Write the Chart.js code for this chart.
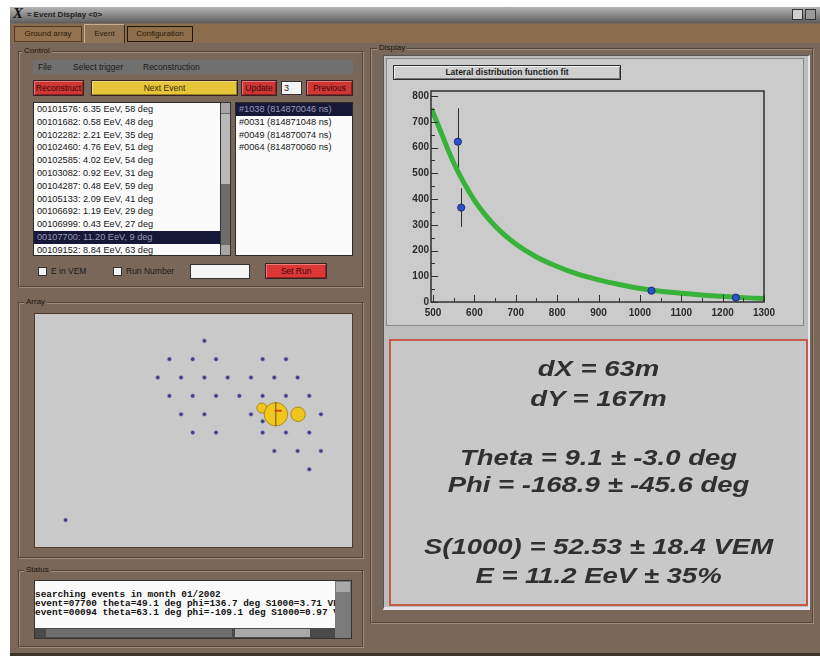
<!DOCTYPE html>
<html>
<head>
<meta charset="utf-8">
<title>Event Display</title>
<script src="https://cdn.jsdelivr.net/npm/chart.js@4.4.1/dist/chart.umd.min.js"></script>
<style>
  html, body { margin: 0; padding: 0; background: #ffffff; }
  body { width: 820px; height: 658px; position: relative; overflow: hidden;
         font-family: "Liberation Sans", Arial, sans-serif; color: #1a1a1a; }
  .a { position: absolute; box-sizing: border-box; }
  .grp { border: 1px solid #54453a; box-shadow: inset 1px 1px 0 #a08c74, 1px 1px 0 #a08c74; }
  .glbl { font-size: 8px; color: #1c140c; background: #79685a; padding: 0 2px; line-height: 10px; }
  .btn { font-size: 8.5px; line-height: 14px; text-align: center; border: 1px solid #3a2020;
         box-shadow: inset 1px 1px 0 rgba(255,255,255,0.35), inset -1px -1px 0 rgba(0,0,0,0.35); }
  .red { background: #cf3636; color: #3a0606; }
  .list { background: #fbfbfb; border: 1px solid #2a2a2a; overflow: hidden; }
  .item { height: 12.8px; line-height: 12.8px; font-size: 9.2px; padding-left: 3px; white-space: nowrap; color: #161616; }
  .item.sel { background: #17173a; color: #9a9ab4; }
  .info { left: 389px; width: 419px; text-align: center; font-style: italic; font-weight: bold;
          font-size: 22px; line-height: 22px; color: #303030; transform: scaleX(1.25); transform-origin: 50% 50%; white-space: nowrap; }
</style>
</head>
<body>

<!-- window frame -->
<div class="a" style="left:10px;top:7px;width:810px;height:16px;background:linear-gradient(#b4b4b4,#868686 55%,#5c5c5c);"></div>
<div class="a" style="left:13px;top:5px;font:italic bold 15px 'Liberation Serif',serif;color:#111;">X</div>
<div class="a" style="left:27px;top:10px;font-size:8px;font-weight:bold;color:#222;">≈ Event Display &lt;0&gt;</div>
<div class="a" style="left:792px;top:9px;width:11px;height:11px;background:#cfcfcf;border:1px solid #333;"></div>
<div class="a" style="left:805px;top:9px;width:11px;height:11px;background:#9a9a9a;border:1px solid #333;"></div>

<div class="a" style="left:10px;top:23px;width:810px;height:633px;background:#79685a;border-bottom:3px solid #3b322a;"></div>

<!-- tab strip -->
<div class="a" style="left:12px;top:24px;width:808px;height:19px;background:#8b6c4c;"></div>
<div class="a" style="left:14px;top:26px;width:68px;height:16px;background:#94724f;border:1px solid #4a3828;font-size:8px;line-height:14px;text-align:center;color:#2a1a0a;">Ground array</div>
<div class="a" style="left:84px;top:24px;width:41px;height:19px;background:#8f7458;border-top:1px solid #c8b090;border-left:1px solid #c8b090;border-right:1px solid #3a2a1a;font-size:8px;line-height:17px;text-align:center;color:#2a1a0a;">Event</div>
<div class="a" style="left:127px;top:26px;width:66px;height:16px;background:#8e6d4b;border:1px solid #20160c;font-size:8px;line-height:14px;text-align:center;color:#2a1a0a;">Configuration</div>

<!-- Control group -->
<div class="a grp" style="left:18px;top:51px;width:345px;height:236px;"></div>
<div class="a glbl" style="left:22px;top:46px;">Control</div>
<div class="a" style="left:33px;top:60px;width:320px;height:14px;background:#707070;font-size:8.5px;line-height:14px;color:#1a1a1a;">
  <span class="a" style="left:5px;">File</span>
  <span class="a" style="left:40px;">Select trigger</span>
  <span class="a" style="left:110px;">Reconstruction</span>
</div>
<div class="a btn red" style="left:33px;top:80px;width:51px;height:16px;">Reconstruct</div>
<div class="a btn" style="left:91px;top:80px;width:147px;height:16px;background:#e5c63a;color:#3a2a06;">Next Event</div>
<div class="a btn red" style="left:241px;top:80px;width:36px;height:16px;">Update</div>
<div class="a" style="left:281px;top:81px;width:21px;height:14px;background:#f4f4f4;border:1px solid #333;font-size:9px;line-height:12px;padding-left:2px;">3</div>
<div class="a btn red" style="left:306px;top:80px;width:47px;height:16px;">Previous</div>

<div class="a list" id="evList" style="left:33px;top:102px;width:188px;height:154px;"></div>
<div class="a" style="left:220px;top:102px;width:11px;height:154px;background:#6c6c6c;border:1px solid #333;"></div>
<div class="a" style="left:221px;top:103px;width:9px;height:10px;background:#a6a6a6;"></div>
<div class="a" style="left:221px;top:114px;width:9px;height:70px;background:#b8b8b8;"></div>
<div class="a" style="left:221px;top:245px;width:9px;height:10px;background:#a6a6a6;"></div>

<div class="a list" id="stList" style="left:235px;top:102px;width:118px;height:154px;"></div>

<div class="a" style="left:38px;top:267px;width:9px;height:9px;background:#f2f2f2;border:1px solid #333;"></div>
<div class="a" style="left:51px;top:266px;font-size:8.5px;color:#1a1a1a;">E in VEM</div>
<div class="a" style="left:113px;top:267px;width:9px;height:9px;background:#f2f2f2;border:1px solid #333;"></div>
<div class="a" style="left:126px;top:266px;font-size:8.5px;color:#1a1a1a;">Run Number</div>
<div class="a" style="left:190px;top:264px;width:60px;height:15px;background:#f6f6f6;border:1px solid #333;"></div>
<div class="a btn" style="left:265px;top:263px;width:62px;height:16px;background:#dc3838;color:#3a0606;">Set Run</div>

<!-- Array group -->
<div class="a grp" style="left:18px;top:302px;width:345px;height:256px;"></div>
<div class="a glbl" style="left:24px;top:297px;">Array</div>
<div class="a" style="left:34px;top:313px;width:319px;height:235px;border:1px solid #4a3b2e;background:#c9c9c9;">
  <canvas id="arrayChart" width="317" height="233" style="display:block;"></canvas>
</div>

<!-- Status group -->
<div class="a grp" style="left:18px;top:570px;width:345px;height:77px;"></div>
<div class="a glbl" style="left:24px;top:565px;">Status</div>
<div class="a" style="left:34px;top:580px;width:318px;height:59px;background:#333;"></div>
<div class="a" id="statusBox" style="left:35px;top:581px;width:300px;height:47px;background:#fafafa;overflow:hidden;font:bold 9.4px 'Liberation Mono','DejaVu Sans Mono',monospace;line-height:9.2px;color:#111;padding-top:9px;white-space:pre;"></div>
<div class="a" style="left:335px;top:581px;width:16px;height:57px;background:#7a7a7a;"></div>
<div class="a" style="left:336px;top:582px;width:14px;height:10px;background:#a8a8a8;"></div>
<div class="a" style="left:35px;top:628px;width:300px;height:10px;background:#4a4a4a;"></div>
<div class="a" style="left:46px;top:629px;width:186px;height:8px;background:#6e6e6e;"></div>
<div class="a" style="left:235px;top:629px;width:75px;height:8px;background:#a9a9a9;"></div>

<!-- Display group -->
<div class="a grp" style="left:370px;top:48px;width:443px;height:575px;"></div>
<div class="a glbl" style="left:377px;top:43px;">Display</div>
<div class="a" style="left:383px;top:55px;width:427px;height:555px;background:#bdbdbd;border-top:1px solid #555;border-left:1px solid #555;border-right:2px solid #e4e4f0;border-bottom:3px solid #e4e4f0;"></div>

<div class="a" style="left:386px;top:58px;width:418px;height:268px;background:#cbcbcb;border:1px solid #8a8a8a;">
  <canvas id="ldfChart" width="416" height="266" style="display:block;"></canvas>
</div>
<div class="a" style="left:393px;top:65px;width:228px;height:15px;background:#d0d0d0;border:1px solid #2e2e2e;box-shadow:inset 1px 1px 0 #f0f0f0, inset -1px -1px 0 #777;font-size:8.5px;font-weight:bold;line-height:13px;text-align:center;color:#1e1e1e;">Lateral distribution function fit</div>

<div class="a" style="left:389px;top:339px;width:419px;height:267px;background:#c8c8c8;border:2px solid #c55a48;"></div>
<div class="a info" style="top:358px;">dX = 63m</div>
<div class="a info" style="top:388px;">dY = 167m</div>
<div class="a info" style="top:447px;">Theta = 9.1 ± -3.0 deg</div>
<div class="a info" style="top:474px;">Phi = -168.9 ± -45.6 deg</div>
<div class="a info" style="top:536px;">S(1000) = 52.53 ± 18.4 VEM</div>
<div class="a info" style="top:565px;">E = 11.2 EeV ± 35%</div>

<script>
// ---- Lateral distribution: station signals (VEM) against core distance (m) ----
const stationDist   = [560, 568, 1028, 1232];
const stationSignal = [623, 367, 44, 17];
const stationErr    = [130, 75, 8, 5];

// fitted lateral distribution function, sampled along the core distance
const fitDist   = [495, 500, 550, 600, 650, 700, 750, 800, 850, 900, 950, 1000, 1050, 1100, 1150, 1200, 1250, 1300];
const fitSignal = [752, 735, 540, 395, 295, 225, 175, 138, 108, 86, 68, 52.53, 42, 34, 27, 22, 17, 14];

const distTicks   = [500, 600, 700, 800, 900, 1000, 1100, 1200, 1300];
const signalTicks = [0, 100, 200, 300, 400, 500, 600, 700, 800];

// ---- Surface array layout (km) ----
const tankX = [10.9,
               8.65, 10.15, 11.65, 14.65, 16.15,
               7.9, 9.4, 10.9, 12.4, 13.9, 15.4, 16.9,
               8.65, 10.15, 11.65, 13.15, 14.65, 16.15, 17.65,
               9.4, 10.9, 13.9, 14.65, 18.4,
               10.15, 11.65, 14.65, 16.15, 17.65,
               15.4, 16.9, 18.4,
               17.65,
               1.97];
const tankY = [14.6,
               13.3, 13.3, 13.3, 13.3, 13.3,
               12.0, 12.0, 12.0, 12.0, 12.0, 12.0, 12.0,
               10.7, 10.7, 10.7, 10.7, 10.7, 10.7, 10.7,
               9.4, 9.4, 9.4, 8.9, 9.4,
               8.1, 8.1, 8.1, 8.1, 8.1,
               6.8, 6.8, 6.8,
               5.5,
               1.91];

// triggered stations and their signals (VEM)
const hitX = [14.6, 15.5, 16.93];
const hitY = [9.84, 9.4, 9.4];
const hitSignal = [25, 137, 52];

// reconstructed core
const coreX = [15.65];
const coreY = [9.65];

// ---- texts ----
const eventEntries = [
  '00101576: 6.35 EeV, 58 deg', '00101682: 0.58 EeV, 48 deg', '00102282: 2.21 EeV, 35 deg',
  '00102460: 4.76 EeV, 51 deg', '00102585: 4.02 EeV, 54 deg', '00103082: 0.92 EeV, 31 deg',
  '00104287: 0.48 EeV, 59 deg', '00105133: 2.09 EeV, 41 deg', '00106692: 1.19 EeV, 29 deg',
  '00106999: 0.43 EeV, 27 deg', '00107700: 11.20 EeV, 9 deg', '00109152: 8.84 EeV, 63 deg'];
const selectedEntry = 10;
const stationEntries = ['#1038 (814870046 ns)', '#0031 (814871048 ns)', '#0049 (814870074 ns)', '#0064 (814870060 ns)'];
const statusLines = [
  'searching events in month 01/2002',
  'event=07700 theta=49.1 deg phi=136.7 deg S1000=3.71 VEM',
  'event=00094 theta=63.1 deg phi=-109.1 deg S1000=0.97 VEM'];

const evList = document.getElementById('evList');
eventEntries.forEach((t, i) => {
  const d = document.createElement('div');
  d.className = 'item' + (i === selectedEntry ? ' sel' : '');
  d.textContent = t;
  evList.appendChild(d);
});
const stList = document.getElementById('stList');
stationEntries.forEach((t, i) => {
  const d = document.createElement('div');
  d.className = 'item' + (i === 0 ? ' sel' : '');
  d.textContent = t;
  stList.appendChild(d);
});
document.getElementById('statusBox').textContent = statusLines.join('\n');

// ---- lateral distribution chart ----
const tickFont = { family: "'Liberation Sans', Arial, sans-serif", size: 10, weight: 'bold' };

// frame with inward major/minor ticks, drawn the way the analysis canvas does it
const frameTicks = {
  id: 'frameTicks',
  afterDraw(chart) {
    const { ctx, chartArea: a, scales: { x, y } } = chart;
    ctx.save();
    ctx.strokeStyle = '#303030';
    ctx.lineWidth = 1.5;
    ctx.strokeRect(a.left, a.top, a.right - a.left, a.bottom - a.top);
    ctx.lineWidth = 1;
    ctx.beginPath();
    for (let i = 0; i < signalTicks.length; i++) {
      const v = signalTicks[i];
      const py = Math.round(y.getPixelForValue(v)) + 0.5;
      ctx.moveTo(a.left, py); ctx.lineTo(a.left + 7, py);
      const mid = v + 50;
      if (mid < y.max) {
        const pm = Math.round(y.getPixelForValue(mid)) + 0.5;
        ctx.moveTo(a.left, pm); ctx.lineTo(a.left + 4, pm);
      }
    }
    for (let i = 0; i < distTicks.length; i++) {
      const v = distTicks[i];
      const px = Math.round(x.getPixelForValue(v)) + 0.5;
      ctx.moveTo(px, a.bottom); ctx.lineTo(px, a.bottom - 7);
      const mid = v + 50;
      if (mid < x.max) {
        const pm = Math.round(x.getPixelForValue(mid)) + 0.5;
        ctx.moveTo(pm, a.bottom); ctx.lineTo(pm, a.bottom - 4);
      }
    }
    ctx.stroke();
    ctx.restore();
  }
};

// vertical error bars on the station signals
const errorBars = {
  id: 'errorBars',
  beforeDatasetsDraw(chart) {
    const { ctx, scales: { x, y } } = chart;
    ctx.save();
    ctx.strokeStyle = '#2c2c2c';
    ctx.lineWidth = 1;
    ctx.beginPath();
    stationDist.forEach((r, i) => {
      const px = Math.round(x.getPixelForValue(r)) + 0.5;
      ctx.moveTo(px, y.getPixelForValue(stationSignal[i] + stationErr[i]));
      ctx.lineTo(px, y.getPixelForValue(stationSignal[i] - stationErr[i]));
    });
    ctx.stroke();
    ctx.restore();
  }
};

new Chart(document.getElementById('ldfChart'), {
  type: 'scatter',
  data: {
    datasets: [
      {
        label: 'stations',
        data: stationDist.map((r, i) => ({ x: r, y: stationSignal[i] })),
        pointRadius: 3.6,
        backgroundColor: '#2a52c8',
        borderColor: '#1d2c78',
        borderWidth: 1,
        order: 0
      },
      {
        label: 'LDF fit',
        data: fitDist.map((r, i) => ({ x: r, y: fitSignal[i] })),
        showLine: true,
        borderColor: '#38b238',
        borderWidth: 5,
        pointRadius: 0,
        cubicInterpolationMode: 'monotone',
        order: 1
      }
    ]
  },
  options: {
    responsive: false,
    animation: false,
    events: [],
    layout: { autoPadding: false, padding: { left: 0, right: 39, top: 32, bottom: 0 } },
    plugins: { legend: { display: false }, tooltip: { enabled: false } },
    scales: {
      x: {
        type: 'linear', min: 495, max: 1300,
        afterBuildTicks(s) { s.ticks = distTicks.map(v => ({ value: v })); },
        afterFit(s) { s.height = 23; },
        grid: { display: false, drawTicks: false },
        border: { display: false },
        ticks: { font: tickFont, color: '#2a2a2a', padding: 5, maxRotation: 0, autoSkip: false,
                 callback: v => String(v) }
      },
      y: {
        type: 'linear', min: 0, max: 820,
        afterBuildTicks(s) { s.ticks = signalTicks.map(v => ({ value: v })); },
        afterFit(s) { s.width = 44; },
        grid: { display: false, drawTicks: false },
        border: { display: false },
        ticks: { font: tickFont, color: '#2a2a2a', padding: 2, autoSkip: false,
                 callback: v => String(v) }
      }
    }
  },
  plugins: [errorBars, frameTicks]
});

// ---- array map ----
new Chart(document.getElementById('arrayChart'), {
  type: 'scatter',
  data: {
    datasets: [
      {
        label: 'core',
        data: coreX.map((v, i) => ({ x: v, y: coreY[i] })),
        pointStyle: 'line',
        pointRadius: 3.5,
        borderColor: '#d2461a',
        borderWidth: 2,
        order: 0
      },
      {
        label: 'hit axis',
        data: [{ x: hitX[1], y: hitY[1] }],
        pointStyle: 'line',
        rotation: 90,
        pointRadius: 12,
        borderColor: '#5e5020',
        borderWidth: 1,
        order: 1
      },
      {
        label: 'triggered',
        data: hitX.map((v, i) => ({ x: v, y: hitY[i] })),
        pointRadius: ctx => Math.sqrt(hitSignal[ctx.dataIndex]),
        backgroundColor: '#f1c61c',
        borderColor: '#a88a1c',
        borderWidth: 1,
        order: 2
      },
      {
        label: 'tanks',
        data: tankX.map((v, i) => ({ x: v, y: tankY[i] })),
        pointRadius: 2.1,
        backgroundColor: '#3e3e80',
        borderColor: '#a4a4c8',
        borderWidth: 0.6,
        order: 3
      }
    ]
  },
  options: {
    responsive: false,
    animation: false,
    events: [],
    layout: { autoPadding: false, padding: 0 },
    plugins: { legend: { display: false }, tooltip: { enabled: false } },
    scales: {
      x: { type: 'linear', min: 0, max: 20.4, display: false },
      y: { type: 'linear', min: 0, max: 16.5, display: false }
    }
  }
});
</script>
</body>
</html>
